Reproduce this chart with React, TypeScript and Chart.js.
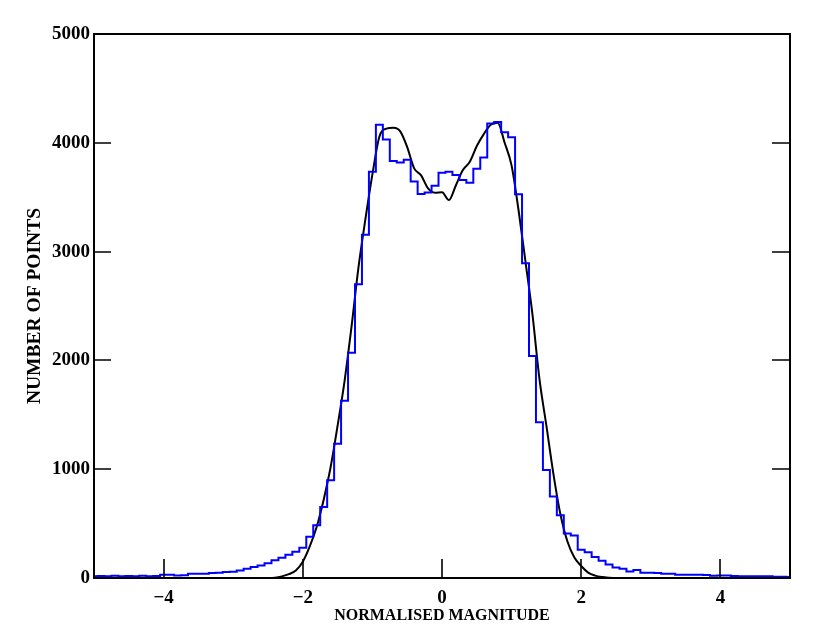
import React, { useEffect, useRef } from 'react';
import { Chart, registerables } from 'chart.js';

Chart.register(...registerables);

// Histogram bin centres (bin width 0.1)
const binCenters = [
  -5.0, -4.9, -4.8, -4.7, -4.6, -4.5, -4.4, -4.3, -4.2, -4.1,
  -4.0, -3.9, -3.8, -3.7, -3.6, -3.5, -3.4, -3.3, -3.2, -3.1,
  -3.0, -2.9, -2.8, -2.7, -2.6, -2.5, -2.4, -2.3, -2.2, -2.1,
  -2.0, -1.9, -1.8, -1.7, -1.6, -1.5, -1.4, -1.3, -1.2, -1.1,
  -1.0, -0.9, -0.8, -0.7, -0.6, -0.5, -0.4, -0.3, -0.2, -0.1,
  0.0, 0.1, 0.2, 0.3, 0.4, 0.5, 0.6, 0.7, 0.8, 0.9,
  1.0, 1.1, 1.2, 1.3, 1.4, 1.5, 1.6, 1.7, 1.8, 1.9,
  2.0, 2.1, 2.2, 2.3, 2.4, 2.5, 2.6, 2.7, 2.8, 2.9,
  3.0, 3.1, 3.2, 3.3, 3.4, 3.5, 3.6, 3.7, 3.8, 3.9,
  4.0, 4.1, 4.2, 4.3, 4.4, 4.5, 4.6, 4.7, 4.8, 4.9,
  5.0,
];

// Histogram counts
const binCounts = [
  15, 18, 15, 20, 15, 18, 15, 20, 15, 18,
  31, 30, 24, 26, 38, 40, 40, 45, 49, 55,
  58, 70, 86, 101, 116, 135, 162, 187, 214, 242,
  279, 380, 484, 652, 898, 1235, 1630, 2071, 2699, 3155,
  3734, 4166, 4031, 3832, 3820, 3844, 3645, 3529, 3544, 3605,
  3725, 3734, 3704, 3658, 3633, 3762, 3866, 4178, 4191, 4096,
  4050, 3526, 2892, 2040, 1431, 993, 750, 576, 409, 390,
  260, 236, 193, 159, 124, 96, 86, 60, 73, 49,
  49, 46, 40, 40, 31, 31, 31, 30, 28, 21,
  24, 24, 18, 17, 16, 15, 17, 15, 12, 12,
  10,
];

// Model curve
const curveX = [
  -5.0, -2.5, -2.4, -2.3, -2.2, -2.1, -2.0, -1.9, -1.8, -1.7, -1.6,
  -1.5, -1.4, -1.3, -1.2, -1.1, -1.0, -0.9, -0.8, -0.7, -0.6,
  -0.5, -0.4, -0.3, -0.2, -0.1, 0.0, 0.1, 0.2, 0.3, 0.4,
  0.5, 0.6, 0.7, 0.8, 0.9, 1.0, 1.1, 1.2, 1.3, 1.4,
  1.5, 1.6, 1.7, 1.8, 1.9, 2.0, 2.1, 2.2, 2.3, 2.4, 2.5, 5.0,
];
const curveY = [
  0, 0, 3, 15, 35, 70, 150, 290, 471, 720, 1020,
  1400, 1810, 2310, 2855, 3300, 3710, 4056, 4130, 4138, 4105,
  3960, 3765, 3700, 3580, 3541, 3545, 3474, 3610, 3750, 3826,
  3970, 4080, 4165, 4184, 4000, 3790, 3380, 2905, 2420, 1830,
  1400, 960, 590, 340, 190, 110, 50, 22, 9, 3, 0, 0,
];

const xTickValues = [-4, -2, 0, 2, 4];
const yTickValues = [0, 1000, 2000, 3000, 4000, 5000];
const xTitle = 'NORMALISED MAGNITUDE';
const yTitle = 'NUMBER OF POINTS';

const frameTicks = {
  id: 'frameTicks',
  afterDatasetsDraw(chart: any) {
    const { ctx, chartArea: a } = chart;
    const xs = chart.scales.x;
    const ys = chart.scales.y;
    ctx.save();
    ctx.strokeStyle = '#000';
    ctx.lineWidth = 2;
    ctx.strokeRect(a.left, a.top, a.right - a.left, a.bottom - a.top);
    ctx.lineWidth = 1.6;
    ctx.beginPath();
    xTickValues.forEach((v) => {
      const px = Math.round(xs.getPixelForValue(v));
      ctx.moveTo(px, a.bottom);
      ctx.lineTo(px, a.bottom - 19);
    });
    yTickValues.forEach((v) => {
      const py = Math.round(ys.getPixelForValue(v));
      ctx.moveTo(a.left, py);
      ctx.lineTo(a.left + 17, py);
      ctx.moveTo(a.right, py);
      ctx.lineTo(a.right - 18, py);
    });
    ctx.stroke();
    ctx.restore();
  },
};

export default function App() {
  const canvasRef = useRef<HTMLCanvasElement | null>(null);

  useEffect(() => {
    const canvas = canvasRef.current;
    if (!canvas) return;
    const tickFont = { family: 'Liberation Serif', size: 19, weight: 'bold' as const };
    const xTitleFont = { family: 'Liberation Serif', size: 16, weight: 'bold' as const };
    const yTitleFont = { family: 'Liberation Serif', size: 19.5, weight: 'bold' as const };
    const chart = new Chart(canvas, {
      type: 'line',
      data: {
        datasets: [
          {
            label: 'histogram',
            data: binCenters.map((x, i) => ({ x, y: binCounts[i] })),
            borderColor: '#0000ff',
            borderWidth: 2,
            pointRadius: 0,
            stepped: 'middle',
            fill: false,
          },
          {
            label: 'model',
            data: curveX.map((x, i) => ({ x, y: curveY[i] })),
            borderColor: '#000000',
            borderWidth: 2,
            pointRadius: 0,
            cubicInterpolationMode: 'monotone',
            fill: false,
          },
        ],
      },
      options: {
        animation: false,
        responsive: false,
        events: [],
        layout: { padding: { top: 34, right: 40, left: 0, bottom: 0 } },
        plugins: { legend: { display: false }, tooltip: { enabled: false } },
        scales: {
          x: {
            type: 'linear',
            min: -5,
            max: 5,
            grid: { display: false, drawTicks: false },
            border: { display: false },
            afterBuildTicks: (scale: any) => {
              scale.ticks = xTickValues.map((value) => ({ value }));
            },
            afterFit: (scale: any) => {
              scale.height = 64;
            },
            ticks: {
              color: '#000',
              font: tickFont,
              padding: 9,
              maxRotation: 0,
              callback: (v: any) => (Number(v) < 0 ? '\u2212' + Math.abs(Number(v)) : String(v)),
            },
            title: {
              display: true,
              text: xTitle,
              color: '#000',
              font: xTitleFont,
              padding: { top: 0, bottom: 17 },
            },
          },
          y: {
            type: 'linear',
            min: 0,
            max: 5000,
            grid: { display: false, drawTicks: false },
            border: { display: false },
            afterBuildTicks: (scale: any) => {
              scale.ticks = yTickValues.map((value) => ({ value }));
            },
            afterFit: (scale: any) => {
              scale.width = 94;
            },
            ticks: {
              color: '#000',
              font: tickFont,
              padding: 4,
              callback: (v: any) => String(v),
            },
            title: {
              display: true,
              text: yTitle,
              color: '#000',
              font: yTitleFont,
              padding: { top: 23, bottom: 0 },
            },
          },
        },
      },
      plugins: [frameTicks],
    } as any);
    return () => chart.destroy();
  }, []);

  return (
    <div style={{ position: 'absolute', left: 0, top: 0, width: 830, height: 642 }}>
      <canvas ref={canvasRef} width={830} height={642} style={{ display: 'block' }} />
    </div>
  );
}
